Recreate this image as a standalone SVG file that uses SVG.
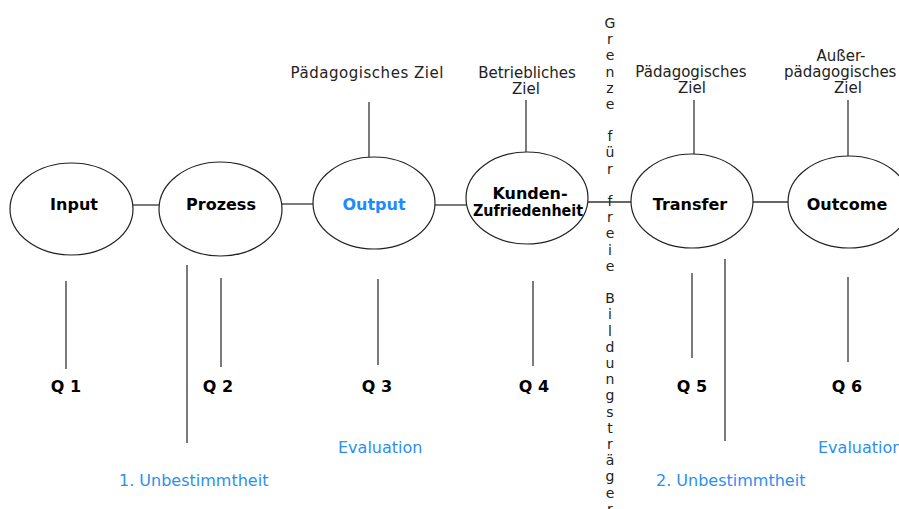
<svg xmlns="http://www.w3.org/2000/svg" width="899" height="509" viewBox="0 0 899 509">
<style>
.n{fill:#fff;stroke:#222;stroke-width:1.2}
line{stroke:#333;stroke-width:1.3}
.b{font-family:"DejaVu Sans",Verdana,sans-serif;font-weight:bold;font-size:16px;fill:#000;text-anchor:middle}
.r{font-family:"DejaVu Sans",Verdana,sans-serif;font-size:15px;fill:#222;text-anchor:middle}
.bl{font-family:"DejaVu Sans",Verdana,sans-serif;font-size:16px;fill:#2b8ff0}
.v{font-family:"DejaVu Sans",Verdana,sans-serif;font-size:14px;fill:#222;text-anchor:middle}
</style>
<rect width="899" height="509" fill="#fff"/>
<g id="connectors">
<line x1="133" y1="205" x2="159" y2="205"/>
<line x1="282" y1="204" x2="313" y2="204"/>
<line x1="435" y1="205" x2="466" y2="205"/>
<line x1="588" y1="202" x2="631" y2="202"/>
<line x1="753" y1="202" x2="788" y2="202"/>
<line x1="369" y1="102" x2="369" y2="157"/>
<line x1="526" y1="100" x2="526" y2="152"/>
<line x1="694" y1="100" x2="694" y2="154"/>
<line x1="848" y1="100" x2="848" y2="156"/>
<line x1="66" y1="281" x2="66" y2="369"/>
<line x1="221" y1="278" x2="221" y2="367"/>
<line x1="378" y1="279" x2="378" y2="365"/>
<line x1="533" y1="281" x2="533" y2="366"/>
<line x1="692" y1="273" x2="692" y2="358"/>
<line x1="848" y1="277" x2="848" y2="362"/>
<line x1="187" y1="265" x2="187" y2="443"/>
<line x1="725" y1="259" x2="725" y2="441"/>
</g>
<g id="input"><ellipse class="n" cx="71.5" cy="209" rx="61.5" ry="46"/><text class="b" x="74" y="210">Input</text></g>
<g id="prozess"><ellipse class="n" cx="220.5" cy="209" rx="61.5" ry="47"/><text class="b" x="221" y="210">Prozess</text></g>
<g id="output"><ellipse class="n" cx="374" cy="203" rx="61" ry="46"/><text class="b" x="374" y="210" style="fill:#1a8cff">Output</text></g>
<g id="kunden"><ellipse class="n" cx="527" cy="198" rx="61" ry="46"/><text class="b" x="530" y="199">Kunden-</text><text class="b" x="528" y="216" textLength="110" lengthAdjust="spacingAndGlyphs">Zufriedenheit</text></g>
<g id="transfer"><ellipse class="n" cx="692" cy="201" rx="61" ry="47"/><text class="b" x="690" y="210">Transfer</text></g>
<g id="outcome"><ellipse class="n" cx="849" cy="202" rx="61" ry="46"/><text class="b" x="847" y="210">Outcome</text></g>
<g id="ziele">
<text class="r" x="367" y="78" textLength="153">Pädagogisches Ziel</text>
<text class="r" x="527" y="78">Betriebliches</text>
<text class="r" x="526" y="94">Ziel</text>
<text class="r" x="691" y="77">Pädagogisches</text>
<text class="r" x="692" y="93">Ziel</text>
<text class="r" x="841" y="61">Außer-</text>
<text class="r" x="784" y="77" style="text-anchor:start">pädagogisches</text>
<text class="r" x="848" y="93">Ziel</text>
</g>
<g id="q">
<text class="b" x="66" y="392">Q 1</text>
<text class="b" x="218" y="392">Q 2</text>
<text class="b" x="377" y="392">Q 3</text>
<text class="b" x="534" y="392">Q 4</text>
<text class="b" x="692" y="392">Q 5</text>
<text class="b" x="847" y="392">Q 6</text>
</g>
<g id="labels">
<text class="bl" x="338" y="453">Evaluation</text>
<text class="bl" x="818" y="453">Evaluation</text>
<text class="bl" x="119" y="486">1. Unbestimmtheit</text>
<text class="bl" x="656" y="486">2. Unbestimmtheit</text>
</g>
<g id="grenze">
<text class="v"><tspan x="610" y="28">G</tspan><tspan x="610" y="44">r</tspan><tspan x="610" y="60">e</tspan><tspan x="610" y="77">n</tspan><tspan x="610" y="93">z</tspan><tspan x="610" y="109">e</tspan><tspan x="610" y="141">f</tspan><tspan x="610" y="157">ü</tspan><tspan x="610" y="174">r</tspan><tspan x="610" y="206">f</tspan><tspan x="610" y="222">r</tspan><tspan x="610" y="238">e</tspan><tspan x="610" y="255">i</tspan><tspan x="610" y="271">e</tspan><tspan x="610" y="303">B</tspan><tspan x="610" y="319">i</tspan><tspan x="610" y="336">l</tspan><tspan x="610" y="352">d</tspan><tspan x="610" y="368">u</tspan><tspan x="610" y="384">n</tspan><tspan x="610" y="400">g</tspan><tspan x="610" y="417">s</tspan><tspan x="610" y="433">t</tspan><tspan x="610" y="449">r</tspan><tspan x="610" y="465">ä</tspan><tspan x="610" y="481">g</tspan><tspan x="610" y="498">e</tspan><tspan x="610" y="514">r</tspan></text>
</g>
</svg>
